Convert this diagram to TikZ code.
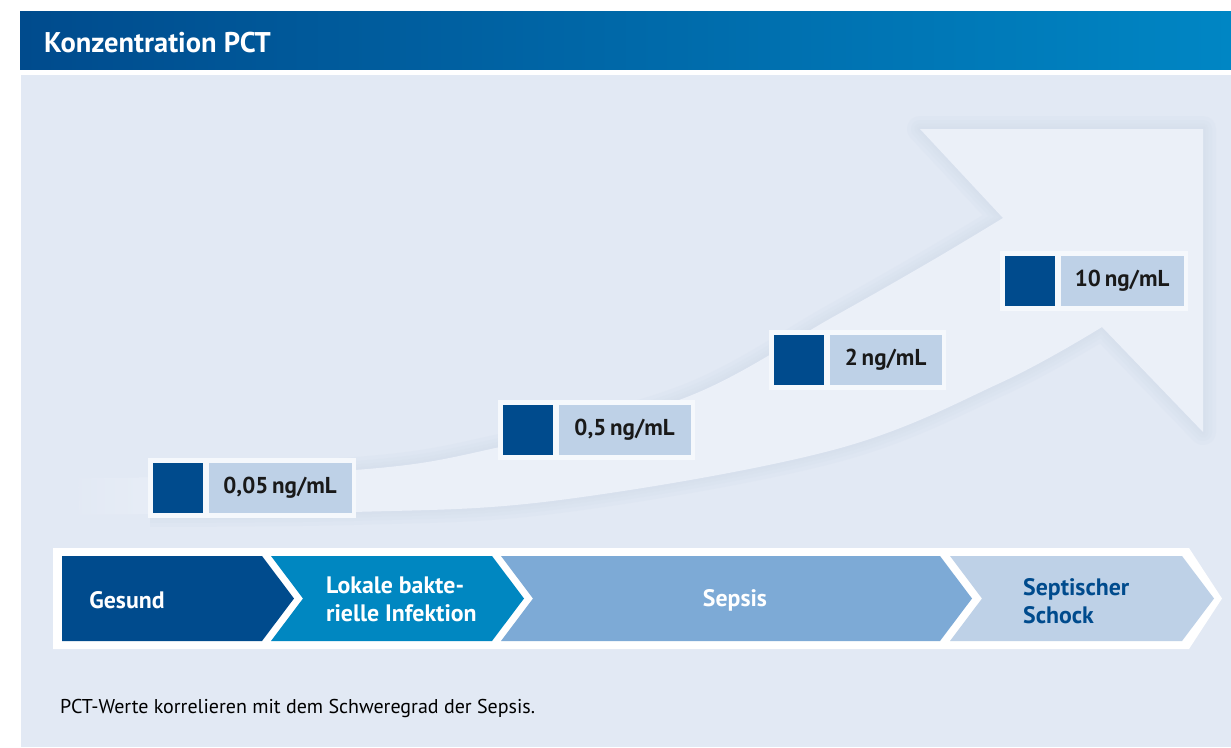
\documentclass[tikz,border=0pt]{standalone}
\usepackage{fontspec}
\setmainfont{PT Sans}
\usepackage{xcolor}
\usepackage{tikz}
\usetikzlibrary{positioning}

\definecolor{pctdark}{RGB}{0,75,141}
\definecolor{pcthead}{RGB}{0,134,196}
\definecolor{pctmid}{RGB}{0,135,193}
\definecolor{pctsepsis}{RGB}{125,170,214}
\definecolor{pctlight}{RGB}{190,209,231}
\definecolor{pctbg}{RGB}{226,233,244}
\definecolor{pctarrow}{RGB}{235,240,248}
\definecolor{pctshade}{RGB}{212,221,235}
\definecolor{pctframe}{RGB}{245,248,252}

\tikzset{
  darksq/.style={fill=pctdark, minimum size=50pt, inner sep=0pt},
  valbox/.style={fill=pctlight, minimum height=50pt, inner sep=0pt,
    font=\bfseries\fontsize{23}{27}\selectfont, text=black!90},
  stagelabel/.style={font=\bfseries\fontsize{23.8}{28}\selectfont, text=white,
    inner sep=0pt, align=left},
}

\def\arrowshape{plot[smooth, tension=0.6] coordinates {(78,479) (355,470) (500,447) (687,397) (833,317) (933,260) (1003,218)}
  -- (920,129) -- (1203,129) -- (1203,432) -- (1102,327)
  -- plot[smooth, tension=0.6] coordinates {(1102,327) (1000,383) (833,450) (560,500) (353,512) (80,514)} -- cycle}

\begin{document}
\begin{tikzpicture}[x=1pt, y=-1pt]
    \useasboundingbox (0,0) rectangle (1231,747);

    % Header bar
    \shade[left color=pctdark, right color=pcthead] (20,11) rectangle (1231,69);
    \node[anchor=base west, inner sep=0pt, text=white, font=\bfseries\fontsize{28.5}{32}\selectfont] (title) at (44,52) {Konzentration PCT};

    % Panel
    \fill[pctbg] (21,75) rectangle (1231,747);

    % Rising arrow, soft edge then fill
    \begin{scope}
        \clip (150,75) rectangle (1231,747);
        \foreach \lw in {26,18,11,5}
            \draw[pctshade, line width=\lw, opacity=0.22, line join=round] \arrowshape;
    \end{scope}
    \fill[pctarrow] \arrowshape;
    \begin{scope}
        \clip \arrowshape;
        \shade[left color=pctbg, right color=pctarrow] (70,440) rectangle (230,540);
    \end{scope}

    % PCT values
    \foreach \x/\y/\w/\val/\n in {153/463/143/{0,05\,ng/mL}/a, 503/405/132/{0,5\,ng/mL}/b, 774/335/112/{2\,ng/mL}/c, 1005/256/123/{10\,ng/mL}/d} {
        \fill[pctframe] (\x-5,\y-5) rectangle (\x+60+\w,\y+55);
        \node[darksq, anchor=north west] (sq\n) at (\x,\y) {};
        \node[valbox, minimum width=\w pt, right=5pt of sq\n] (val\n) {\val};
    }

    % Stages
    \fill[white] (53,548) -- (1189,548) -- (1222,598.5) -- (1189,649) -- (53,649) -- cycle;
    \fill[pctdark] (62,556) -- (262,556) -- (294,598.5) -- (262,641) -- (62,641) -- cycle;
    \fill[pctmid] (271,556) -- (492,556) -- (524,598.5) -- (492,641) -- (271,641) -- (303,598.5) -- cycle;
    \fill[pctsepsis] (501,556) -- (940,556) -- (972,598.5) -- (940,641) -- (501,641) -- (533,598.5) -- cycle;
    \fill[pctlight] (950,556) -- (1182,556) -- (1214,598.5) -- (1182,641) -- (950,641) -- (982,598.5) -- cycle;

    \node[stagelabel] (gesund) at (127,600) {Gesund};
    \node[stagelabel, anchor=west] (lokal) at (326,599) {Lokale bakte-\\rielle Infektion};
    \node[stagelabel] (sepsis) at (735,600) {Sepsis};
    \node[stagelabel, anchor=west, text=pctdark] (schock) at (1023,601) {Septischer\\Schock};

    % Caption
    \node[anchor=base west, inner sep=0pt, font=\fontsize{20}{24}\selectfont] (caption) at (60,713) {PCT-Werte korrelieren mit dem Schweregrad der Sepsis.};
\end{tikzpicture}
\end{document}
